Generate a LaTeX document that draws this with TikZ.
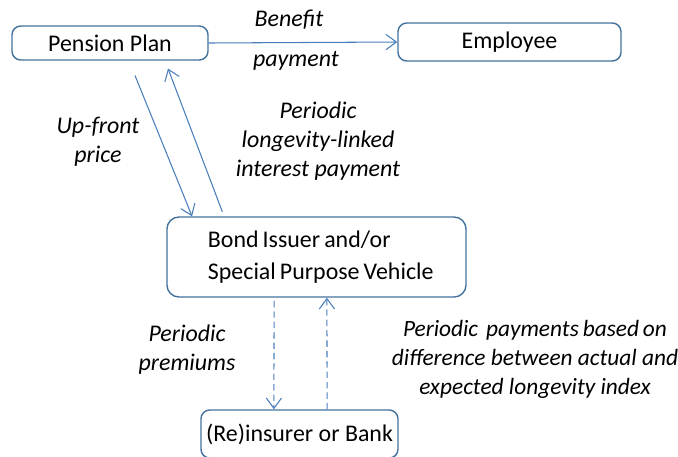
\documentclass[tikz,border=0pt]{standalone}
\usepackage{fontspec}
\setmainfont{Carlito}
\usetikzlibrary{arrows.meta,calc,positioning}
\definecolor{boxblue}{HTML}{41719C}
\definecolor{arrowblue}{HTML}{4A7EBB}
\newcommand\tightwords{\spaceskip=0.17em\relax}
\tikzset{
flow/.style={>={Straight Barb[length=2.6mm,width=3.8mm]},
font=\fontsize{17}{20.6}\selectfont,x=0.025cm,y=-0.025cm},
party/.style={draw=boxblue,line width=1pt,rounded corners=0.22cm,minimum height=#1},
party/.default={0.85cm},
pay/.style={->,draw=arrowblue,line width=0.75pt},
swap/.style={pay,dash pattern=on 1.6mm off 1mm},
note/.style={font=\fontsize{17}{20.6}\selectfont\itshape,align=center,inner sep=0pt},
}
\begin{document}
\begin{tikzpicture}[flow]
\useasboundingbox (0,0) rectangle (678,456);
\node[party,minimum width=4.9cm] (pension) at (110,43) {Pension Plan};
\node[party=0.95cm,minimum width=5.575cm] (employee) at (509.5,42) {Employee};
\node[party=2cm,minimum width=7.475cm,text width=5.425cm,align=left,
  font=\fontsize{17}{22.8}\selectfont,rounded corners=0.3cm] (bond) at (316.5,257)
  {\tightwords\mbox{Bond Issuer and/or}\\\mbox{Special Purpose Vehicle}};
\node[party=1.2cm,minimum width=4.925cm] (reinsurer) at (299.5,434) {(Re)insurer or Bank};

\node[note] (benefit) at (289,20) {Benefit};
\node[note] (payment) at (296,61) {payment};
\node[note] (upfront) at (98,142) {Up-front\\price};
\node[note] (coupon) at (318,141) {Periodic\\longevity-linked\\interest payment};
\node[note] (premiums) at (187,350) {Periodic\\premiums};
\node[note,font=\fontsize{16.6}{20.6}\selectfont\itshape] (swaps) at (535,359)
  {\tightwords Periodic\ \ payments based on\\difference between actual and\\expected longevity index};

\draw[pay] (pension.east) -- (employee.west);
\draw[pay,shorten <=0.4cm] ([xshift=0.475cm]pension.south) -- ([xshift=-3.11cm]bond.north);
\draw[pay,shorten <=0.12cm,shorten >=0.21cm] ([xshift=-2.31cm]bond.north) -- ([xshift=1.375cm]pension.south);
\draw[swap,shorten <=0.08cm] ([xshift=-1.06cm]bond.south) -- ([xshift=-0.64cm]reinsurer.north);
\draw[swap] ([xshift=0.69cm]reinsurer.north) -- ([xshift=0.26cm]bond.south);
\end{tikzpicture}
\end{document}
